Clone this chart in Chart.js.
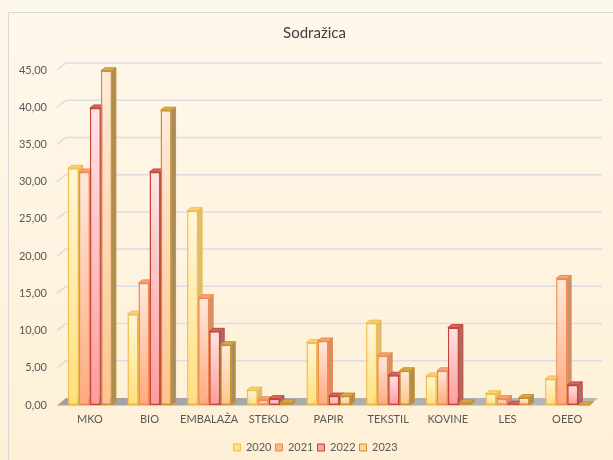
<!DOCTYPE html>
<html>
<head>
<meta charset="utf-8">
<script src="https://cdn.jsdelivr.net/npm/chart.js@4/dist/chart.umd.min.js"></script>
<style>
html,body{margin:0;padding:0;background:#FEF6E6;}
#wrap{width:613px;height:460px;position:relative;}
</style>
</head>
<body>
<div id="wrap"><canvas id="c" width="613" height="460"></canvas></div>
<script>
const chartTitle = 'Sodražica';
const categories = ['MKO', 'BIO', 'EMBALAŽA', 'STEKLO', 'PAPIR', 'TEKSTIL', 'KOVINE', 'LES', 'OEEO'];
const years = ['2020', '2021', '2022', '2023'];
const values2020 = [31.8, 12.2, 26.1, 2.0, 8.4, 11.0, 3.9, 1.5, 3.5];
const values2021 = [31.3, 16.4, 14.4, 0.7, 8.6, 6.6, 4.6, 0.85, 17.0];
const values2022 = [39.9, 31.3, 9.9, 0.85, 1.2, 4.0, 10.4, 0.1, 2.7];
const values2023 = [44.9, 39.6, 8.1, 0.3, 1.2, 4.6, 0.3, 1.0, 0.0];
const yMin = 0, yMax = 45, yStep = 5;

const styles = [
  {top:'#FFF7DA', bottom:'#FFE07C', border:'#F0BE4A', side:'#D8BE78', cap:'#F6D47A', legend:'#FFE08A'},
  {top:'#FFE9DC', bottom:'#FFA97E', border:'#F08A50', side:'#CC9270', cap:'#F4A676', legend:'#FFB48E'},
  {top:'#FFE4E4', bottom:'#FF9C9C', border:'#C4443A', side:'#A86E66', cap:'#D46A60', legend:'#F7A3A0'},
  {top:'#FFEBDD', bottom:'#FFC48C', border:'#C8922E', side:'#A88C5C', cap:'#D8A850', legend:'#FFD3A8'}
];
const series = [values2020, values2021, values2022, values2023];

const DX = 4, DY = 3;       // bar depth
const FX = 9, FY = 7;       // floor / wall depth

function fmt(v){ return v.toFixed(2).replace('.', ','); }

const bg3d = {
  id: 'bg3d',
  afterLayout(chart){
    const lg = chart.legend;
    if (lg) { lg.left += 17; lg.right += 17; lg.top += 7; lg.bottom += 7; }
    const tb = chart.titleBlock;
    if (tb) { tb.left += 16; tb.right += 16; }
  },
  beforeDraw(chart){
    const c = chart.ctx;
    c.save();
    const g = c.createLinearGradient(0, 0, 0, chart.height);
    g.addColorStop(0, '#FEF8EC');
    g.addColorStop(1, '#FEF0D6');
    c.fillStyle = g;
    c.fillRect(0, 0, chart.width, chart.height);
    c.strokeStyle = '#D9D9D9';
    c.lineWidth = 1;
    c.strokeRect(8.5, 12.5, chart.width + 10, chart.height + 10);
    c.restore();
  },
  beforeDatasetsDraw(chart){
    const c = chart.ctx;
    const ca = chart.chartArea;
    const y = chart.scales.y;
    const base = y.getPixelForValue(0);
    c.save();
    // floor
    const fg = c.createLinearGradient(ca.left, 0, ca.right, 0);
    fg.addColorStop(0, '#A0A0A0');
    fg.addColorStop(1, '#B8B8B8');
    c.fillStyle = fg;
    c.beginPath();
    c.moveTo(ca.left - 3, base + 0.5);
    c.lineTo(ca.right - 8, base + 0.5);
    c.lineTo(ca.right - 8 + FX, base - FY);
    c.lineTo(ca.left - 3 + FX, base - FY);
    c.closePath();
    c.fill();
    // back wall gridlines
    c.strokeStyle = '#DCDCE2';
    c.lineWidth = 1.5;
    for (let v = yMin + yStep; v <= yMax; v += yStep) {
      const py = y.getPixelForValue(v);
      c.beginPath();
      c.moveTo(ca.left - 3, py);
      c.lineTo(ca.left - 3 + FX, py - FY);
      c.lineTo(ca.right + 5, py - FY);
      c.stroke();
    }
    // side and top faces of bars, left to right
    const n = chart.data.labels.length;
    for (let i = 0; i < n; i++) {
      chart.data.datasets.forEach((ds, di) => {
        const meta = chart.getDatasetMeta(di);
        const el = meta.data[i];
        if (!el) return;
        const p = el.getProps(['x','y','base','width'], true);
        const l = p.x - p.width/2, r = p.x + p.width/2, t = p.y, b = p.base;
        const st = styles[di];
        c.fillStyle = st.side;
        c.strokeStyle = st.border;
        c.lineWidth = 1;
        c.beginPath();
        c.moveTo(r, t);
        c.lineTo(r + DX, t - DY);
        c.lineTo(r + DX, b - DY);
        c.lineTo(r, b);
        c.closePath();
        c.fill();
        c.stroke();
        c.fillStyle = st.cap;
        c.beginPath();
        c.moveTo(l, t);
        c.lineTo(l + DX, t - DY);
        c.lineTo(r + DX, t - DY);
        c.lineTo(r, t);
        c.closePath();
        c.fill();
        c.stroke();
      });
    }
    c.restore();
  }
};

function barFill(di){
  return (ctx) => {
    const st = styles[di];
    const chart = ctx.chart;
    if (ctx.type !== 'data' || !chart.chartArea) return st.bottom;
    const y = chart.scales.y;
    const top = y.getPixelForValue(ctx.raw);
    const bot = y.getPixelForValue(0);
    if (bot - top < 2) return st.bottom;
    const g = chart.ctx.createLinearGradient(0, top, 0, bot);
    g.addColorStop(0, st.top);
    g.addColorStop(1, st.bottom);
    return g;
  };
}

const datasets = years.map((yr, di) => ({
  label: yr,
  data: series[di],
  backgroundColor: barFill(di),
  borderColor: styles[di].border,
  borderWidth: 1.5,
  borderSkipped: false
}));

new Chart(document.getElementById('c'), {
  type: 'bar',
  data: { labels: categories, datasets },
  plugins: [bg3d],
  options: {
    responsive: false,
    animation: false,
    events: [],
    layout: { padding: { left: 0, right: 16, top: 0, bottom: 4 } },
    datasets: { bar: { categoryPercentage: 0.74, barPercentage: 1.0 } },
    scales: {
      x: {
        grid: { display: false, drawTicks: false },
        border: { display: false },
        ticks: { font: { family: 'Lato', size: 11 }, color: '#595959', padding: 8, maxRotation: 0, autoSkip: false },
        afterFit(s){ s.height = 26; }
      },
      y: {
        min: yMin, max: yMax,
        grid: { display: false, drawTicks: false },
        border: { display: false },
        ticks: { stepSize: yStep, font: { family: 'Lato', size: 11 }, color: '#595959', padding: 13, callback: (v) => fmt(v) },
        afterFit(s){ s.width = 60; }
      }
    },
    plugins: {
      title: {
        display: true, text: chartTitle,
        font: { family: 'Lato', size: 15, weight: 'normal' },
        color: '#404040',
        padding: { top: 24, bottom: 28 }
      },
      legend: {
        position: 'bottom',
        labels: {
          font: { family: 'Lato', size: 11 },
          color: '#595959',
          boxWidth: 7, boxHeight: 7, padding: 4,
          generateLabels(chart){
            return chart.data.datasets.map((ds, i) => ({
              text: ds.label, fillStyle: styles[i].legend, strokeStyle: styles[i].border,
              lineWidth: 1, hidden: false, datasetIndex: i, fontColor: '#595959'
            }));
          }
        }
      },
      tooltip: { enabled: false }
    }
  }
});
</script>
</body>
</html>
